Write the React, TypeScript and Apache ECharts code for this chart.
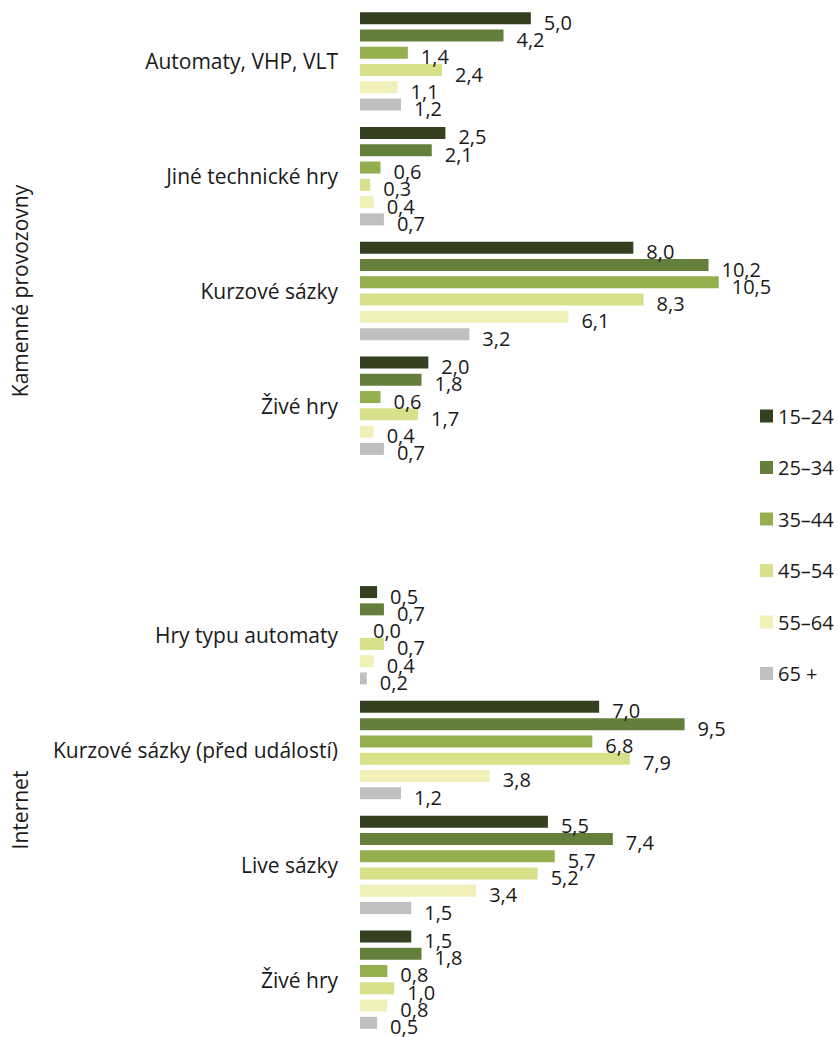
import React, { useEffect, useRef } from "react";
import * as echarts from "echarts";

const categories = [
  "Automaty, VHP, VLT",
  "Jiné technické hry",
  "Kurzové sázky",
  "Živé hry",
  "",
  "Hry typu automaty",
  "Kurzové sázky (před událostí)",
  "Live sázky",
  "Živé hry",
];

const seriesNames = ["15–24", "25–34", "35–44", "45–54", "55–64", "65 +"];
const colors = ["#344020", "#647F3C", "#94B04E", "#D8E08A", "#F0F0B8", "#BFBFBF"];

const s15_24 = [5.0, 2.5, 8.0, 2.0, null, 0.5, 7.0, 5.5, 1.5];
const s25_34 = [4.2, 2.1, 10.2, 1.8, null, 0.7, 9.5, 7.4, 1.8];
const s35_44 = [1.4, 0.6, 10.5, 0.6, null, 0.0, 6.8, 5.7, 0.8];
const s45_54 = [2.4, 0.3, 8.3, 1.7, null, 0.7, 7.9, 5.2, 1.0];
const s55_64 = [1.1, 0.4, 6.1, 0.4, null, 0.4, 3.8, 3.4, 0.8];
const s65 = [1.2, 0.7, 3.2, 0.7, null, 0.2, 1.2, 1.5, 0.5];

const seriesValues = [s15_24, s25_34, s35_44, s45_54, s55_64, s65];

const groupTitles = ["Kamenné provozovny", "Internet"];

const FONT = "'Open Sans', 'Noto Sans', sans-serif";
const TXT = "#1a1a1a";

export default function App() {
  const ref = useRef<HTMLDivElement>(null);
  useEffect(() => {
    if (!ref.current) return;
    const chart = echarts.init(ref.current, null, { renderer: "svg" });
    chart.setOption({
      animation: false,
      textStyle: { fontFamily: FONT },
      grid: { left: 360, top: 4, width: 410, height: 1033, containLabel: false },
      xAxis: {
        type: "value",
        min: 0,
        max: 12,
        show: false,
      },
      yAxis: {
        type: "category",
        inverse: true,
        data: categories,
        axisLine: { show: false },
        axisTick: { show: false },
        axisLabel: {
          color: TXT,
          fontSize: 21,
          fontFamily: FONT,
          margin: 22,
        },
      },
      legend: {
        orient: "vertical",
        left: 760,
        top: 406,
        padding: 0,
        itemWidth: 13,
        itemHeight: 13,
        itemGap: 31.5,
        icon: "rect",
        textStyle: { fontSize: 20, color: TXT, fontFamily: FONT, lineHeight: 14 },
        data: seriesNames,
      },
      series: seriesValues.map((vals, i) => ({
        type: "bar",
        name: seriesNames[i],
        data: vals,
        barWidth: 12,
        barGap: "44%",
        itemStyle: { color: colors[i] },
        label: {
          show: true,
          position: "right",
          distance: 13,
          offset: [0, 4],
          fontSize: 20,
          color: TXT,
          fontFamily: FONT,
          formatter: (p: any) =>
            p.value == null ? "" : Number(p.value).toFixed(1).replace(".", ","),
        },
      })),
      graphic: [
        {
          type: "text",
          x: 20,
          y: 291,
          rotation: Math.PI / 2,
          style: {
            text: groupTitles[0],
            fontSize: 21,
            fontFamily: FONT,
            fill: TXT,
            align: "center",
            verticalAlign: "middle",
          },
        },
        {
          type: "text",
          x: 20,
          y: 810,
          rotation: Math.PI / 2,
          style: {
            text: groupTitles[1],
            fontSize: 21,
            fontFamily: FONT,
            fill: TXT,
            align: "center",
            verticalAlign: "middle",
          },
        },
      ],
    });
    return () => chart.dispose();
  }, []);
  return (
    <div
      ref={ref}
      style={{ position: "absolute", left: 0, top: 0, width: 838, height: 1037 }}
    />
  );
}
